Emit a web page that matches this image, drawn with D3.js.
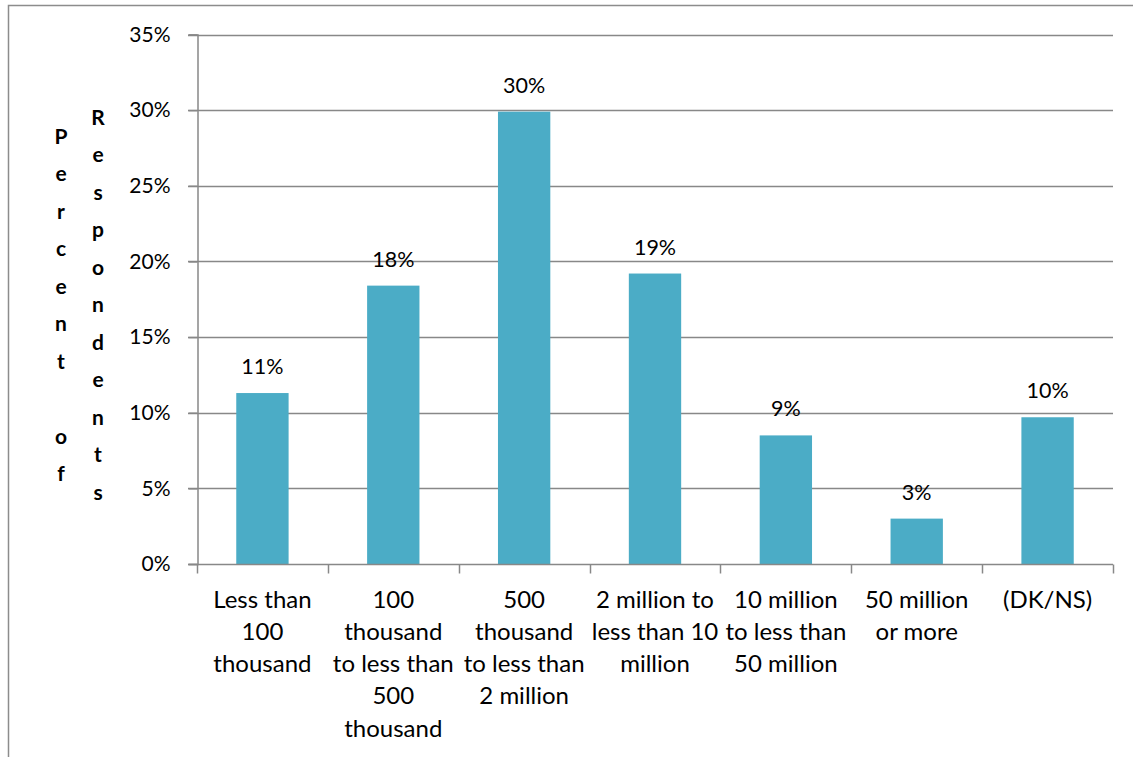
<!DOCTYPE html>
<html>
<head>
<meta charset="utf-8">
<script src="https://cdn.jsdelivr.net/npm/d3@7"></script>
<style>
  body { margin: 0; background: #fff; }
  svg { display: block; font-family: Lato, "Open Sans", sans-serif; }
</style>
</head>
<body>
<div id="chart"></div>
<script>
var width = 1133;
var height = 757;

// data
var categories = [
    ["Less than", "100", "thousand"],
    ["100", "thousand", "to less than", "500", "thousand"],
    ["500", "thousand", "to less than", "2 million"],
    ["2 million to", "less than 10", "million"],
    ["10 million", "to less than", "50 million"],
    ["50 million", "or more"],
    ["(DK/NS)"]
];
var values = [11.3, 18.4, 29.9, 19.2, 8.5, 3.0, 9.7];
var valueLabels = ["11%", "18%", "30%", "19%", "9%", "3%", "10%"];
var yTicks = [0, 5, 10, 15, 20, 25, 30, 35];
var axisTitleA = "Percent of";
var axisTitleB = "Respondents";

var margin = {top: 34.5, right: 20, bottom: 193, left: 197};

var svg = d3.select("#chart").append("svg")
    .attr("width", width)
    .attr("height", height);

// outer frame (top and left edges only are visible)
svg.append("path")
    .attr("d", "M8.5," + height + "V5.5H" + width)
    .attr("fill", "none")
    .attr("stroke", "#8c8c8c")
    .attr("stroke-width", 1.5);

var x = d3.scaleBand()
    .domain(d3.range(categories.length))
    .range([margin.left, width - margin.right])
    .paddingInner(0.6)
    .paddingOuter(0.3);

var xTick = d3.scaleLinear()
    .domain([0, categories.length])
    .range([margin.left, width - margin.right]);

var y = d3.scaleLinear()
    .domain([0, 35])
    .range([height - margin.bottom, margin.top]);

var g = svg.append("g");

// gridlines
g.selectAll(".grid")
    .data(yTicks.filter(function (d) { return d > 0; }))
    .enter().append("line")
    .attr("x1", margin.left - 9)
    .attr("x2", width - margin.right)
    .attr("y1", function (d) { return Math.round(y(d)) + 0.5; })
    .attr("y2", function (d) { return Math.round(y(d)) + 0.5; })
    .attr("stroke", "#888")
    .attr("stroke-width", 1.5);

// bars
g.selectAll(".bar")
    .data(values)
    .enter().append("rect")
    .attr("x", function (d, i) { return x(i); })
    .attr("y", function (d) { return y(d); })
    .attr("width", x.bandwidth())
    .attr("height", function (d) { return y(0) - y(d); })
    .attr("fill", "#4bacc6");

// value labels
g.selectAll(".val")
    .data(values)
    .enter().append("text")
    .attr("x", function (d, i) { return x(i) + x.bandwidth() / 2; })
    .attr("y", function (d) { return y(d) - 19; })
    .attr("text-anchor", "middle")
    .attr("font-size", 21.5)
    .attr("fill", "#000")
    .text(function (d, i) { return valueLabels[i]; });

// y axis line and ticks
var yAxis = d3.axisLeft(y)
    .tickValues(yTicks)
    .tickSize(9)
    .tickPadding(18)
    .tickFormat(function (d) { return d + "%"; });

var ya = svg.append("g")
    .attr("transform", "translate(" + (margin.left + 0.5) + ",0)")
    .call(yAxis);
ya.select(".domain").attr("stroke", "#888").attr("stroke-width", 1.5);
ya.selectAll(".tick line").attr("stroke", "#888").attr("stroke-width", 1.5);
ya.selectAll(".tick text")
    .attr("font-size", 21)
    .attr("font-family", "Lato, sans-serif")
    .attr("fill", "#000");

// x axis
var xa = svg.append("g")
    .attr("transform", "translate(0," + (Math.round(y(0)) + 0.5) + ")");
xa.append("line")
    .attr("x1", margin.left - 9)
    .attr("x2", width - margin.right)
    .attr("stroke", "#888")
    .attr("stroke-width", 1.5);
xa.selectAll(".xt")
    .data(d3.range(categories.length + 1))
    .enter().append("line")
    .attr("x1", function (d) { return Math.round(xTick(d)) + 0.5; })
    .attr("x2", function (d) { return Math.round(xTick(d)) + 0.5; })
    .attr("y1", 0)
    .attr("y2", 9)
    .attr("stroke", "#888")
    .attr("stroke-width", 1.5);

var catText = xa.selectAll(".cat")
    .data(categories)
    .enter().append("text")
    .attr("text-anchor", "middle")
    .attr("font-size", 24)
    .attr("fill", "#000")
    .attr("transform", function (d, i) {
        return "translate(" + (x(i) + x.bandwidth() / 2) + ",43)";
    });
catText.selectAll("tspan")
    .data(function (d) { return d; })
    .enter().append("tspan")
    .attr("x", 0)
    .attr("y", function (d, i) { return i * 32.3; })
    .text(function (d) { return d; });

// stacked-letter axis title, two columns
function stackTitle(str, cx) {
    var chars = str.split("");
    var step = 37.5;
    var mid = (y(0) + y(35)) / 2 + 6;
    var start = mid - (chars.length - 1) * step / 2;
    svg.append("g").selectAll("text")
        .data(chars)
        .enter().append("text")
        .attr("x", cx)
        .attr("y", function (d, i) { return start + i * step + 7; })
        .attr("text-anchor", "middle")
        .attr("font-size", 21)
        .attr("font-weight", "bold")
        .attr("fill", "#000")
        .text(function (d) { return d; });
}
stackTitle(axisTitleA, 61);
stackTitle(axisTitleB, 98);
</script>
</body>
</html>
